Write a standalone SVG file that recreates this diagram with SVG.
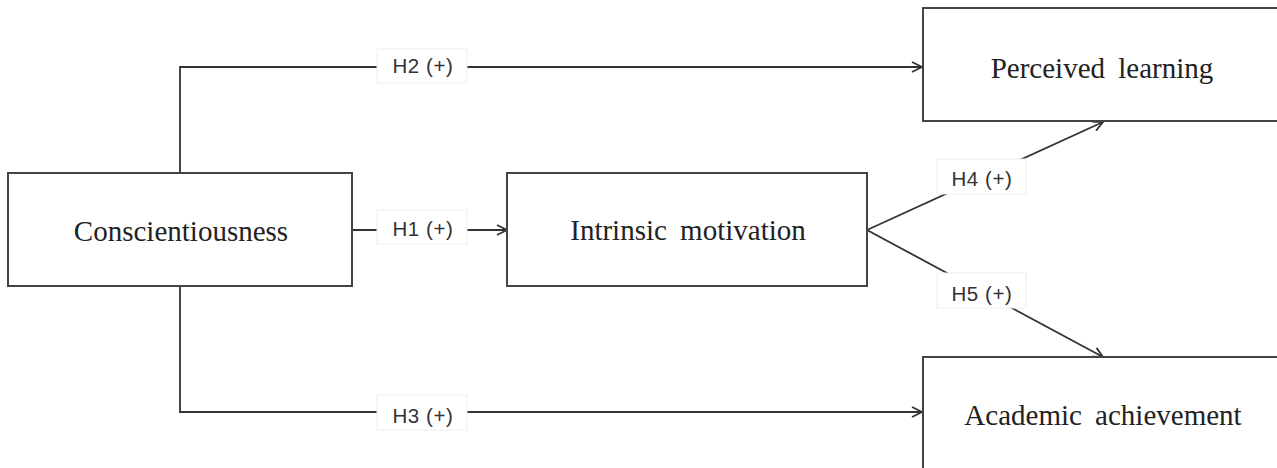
<svg xmlns="http://www.w3.org/2000/svg" width="1277" height="468" viewBox="0 0 1277 468">
<style>
.box{fill:#fff;stroke:#444;stroke-width:2}
.nt{font-family:"Liberation Serif",serif;font-size:29px;fill:#222;text-anchor:middle;word-spacing:6px}
.ln{fill:none;stroke:#333;stroke-width:1.8}
.lb{fill:#fff;stroke:#eee;stroke-width:1}
.lt{font-family:"Liberation Sans",sans-serif;font-size:20.5px;fill:#333;text-anchor:middle;letter-spacing:0.6px}
</style>
<defs>
<marker id="ar" viewBox="0 0 12 12" refX="11" refY="6" markerWidth="12" markerHeight="12" markerUnits="userSpaceOnUse" orient="auto">
<path d="M1,1 L11,6 L1,11" fill="none" stroke="#333" stroke-width="1.8"/>
</marker>
</defs>
<rect width="1277" height="468" fill="#fff"/>
<g id="connectors">
<path class="ln" d="M180,173 V67 H922" marker-end="url(#ar)"/>
<path class="ln" d="M180,286 V412 H922" marker-end="url(#ar)"/>
<path class="ln" d="M352,230 H507" marker-end="url(#ar)"/>
<path class="ln" d="M867,230 L1103,122" marker-end="url(#ar)"/>
<path class="ln" d="M867,230 L1103,357" marker-end="url(#ar)"/>
<g id="lbl-h2"><rect class="lb" x="377" y="49" width="90" height="34"/><text class="lt" x="423" y="73">H2 (+)</text></g>
<g id="lbl-h1"><rect class="lb" x="377" y="210" width="90" height="34"/><text class="lt" x="423" y="236">H1 (+)</text></g>
<g id="lbl-h3"><rect class="lb" x="377" y="395" width="90" height="35"/><text class="lt" x="423" y="423">H3 (+)</text></g>
<g id="lbl-h4"><rect class="lb" x="937" y="159" width="89" height="35"/><text class="lt" x="982" y="186">H4 (+)</text></g>
<g id="lbl-h5"><rect class="lb" x="937" y="273" width="89" height="35"/><text class="lt" x="982" y="301">H5 (+)</text></g>
</g>
<g id="node-conscientiousness"><rect class="box" x="8" y="173" width="344" height="113"/><text class="nt" x="181" y="241">Conscientiousness</text></g>
<g id="node-intrinsic"><rect class="box" x="507" y="173" width="360" height="113"/><text class="nt" x="688" y="240">Intrinsic motivation</text></g>
<g id="node-perceived"><rect class="box" x="923" y="8" width="370" height="113"/><text class="nt" x="1102" y="78">Perceived learning</text></g>
<g id="node-academic"><rect class="box" x="923" y="357" width="370" height="130"/><text class="nt" x="1103" y="425">Academic achievement</text></g>
</svg>
